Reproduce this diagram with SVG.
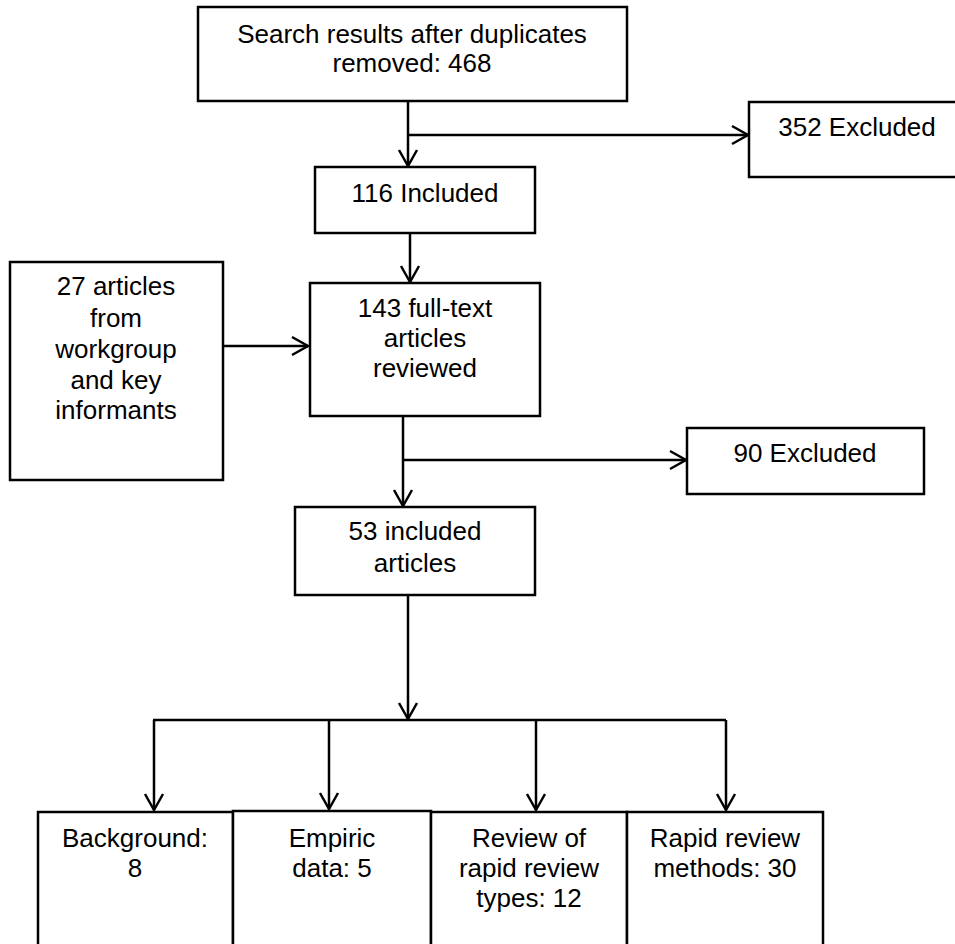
<svg xmlns="http://www.w3.org/2000/svg" width="955" height="944" viewBox="0 0 955 944">
<style>
.box{fill:#fff;stroke:#000;stroke-width:2.5}
.t{font-family:"Liberation Sans",Arial,sans-serif;font-size:26px;fill:#000;text-anchor:middle}
.c{fill:none;stroke:#000;stroke-width:2.5}
</style>
<defs>
<marker id="arr" markerUnits="userSpaceOnUse" markerWidth="24" markerHeight="24" viewBox="-20 -12 24 24" refX="0" refY="0" orient="auto">
<path d="M-16,-9 L0,0 L-16,9" fill="none" stroke="#000" stroke-width="2.5"/>
</marker>
</defs>
<rect width="955" height="944" fill="#fff"/>
<g id="connectors">
<path class="c" d="M408,101 V166" marker-end="url(#arr)"/>
<path class="c" d="M408,135 H748" marker-end="url(#arr)"/>
<path class="c" d="M410,233 V282" marker-end="url(#arr)"/>
<path class="c" d="M224,346 H308" marker-end="url(#arr)"/>
<path class="c" d="M403,416 V506" marker-end="url(#arr)"/>
<path class="c" d="M403,460 H686" marker-end="url(#arr)"/>
<path class="c" d="M408,595 V719" marker-end="url(#arr)"/>
<path class="c" d="M153,720 H726"/>
<path class="c" d="M154,720 V810" marker-end="url(#arr)"/>
<path class="c" d="M329,720 V809" marker-end="url(#arr)"/>
<path class="c" d="M536,720 V810" marker-end="url(#arr)"/>
<path class="c" d="M726,720 V810" marker-end="url(#arr)"/>
</g>
<g id="search">
<rect class="box" x="198" y="7" width="429" height="94"/>
<text class="t" x="412" y="43">Search results after duplicates</text>
<text class="t" x="412" y="72">removed: 468</text>
</g>
<g id="excluded352">
<rect class="box" x="749" y="102" width="220" height="75"/>
<text class="t" x="857" y="136">352 Excluded</text>
</g>
<g id="included116">
<rect class="box" x="315" y="167" width="220" height="66"/>
<text class="t" x="425" y="202">116 Included</text>
</g>
<g id="workgroup">
<rect class="box" x="10" y="262" width="213" height="218"/>
<text class="t" x="116" y="295">27 articles</text>
<text class="t" x="116" y="327">from</text>
<text class="t" x="116" y="358">workgroup</text>
<text class="t" x="116" y="389">and key</text>
<text class="t" x="116" y="419">informants</text>
</g>
<g id="fulltext143">
<rect class="box" x="310" y="283" width="230" height="133"/>
<text class="t" x="425" y="317">143 full-text</text>
<text class="t" x="425" y="347">articles</text>
<text class="t" x="425" y="377">reviewed</text>
</g>
<g id="excluded90">
<rect class="box" x="687" y="428" width="237" height="66"/>
<text class="t" x="805" y="462">90 Excluded</text>
</g>
<g id="included53">
<rect class="box" x="295" y="507" width="240" height="88"/>
<text class="t" x="415" y="540">53 included</text>
<text class="t" x="415" y="572">articles</text>
</g>
<g id="background">
<rect class="box" x="38" y="812" width="195" height="150"/>
<text class="t" x="135" y="847">Background:</text>
<text class="t" x="135" y="877">8</text>
</g>
<g id="empiric">
<rect class="box" x="233" y="811" width="198" height="150"/>
<text class="t" x="332" y="847">Empiric</text>
<text class="t" x="332" y="877">data: 5</text>
</g>
<g id="reviewtypes">
<rect class="box" x="431" y="812" width="196" height="150"/>
<text class="t" x="529" y="847">Review of</text>
<text class="t" x="529" y="877">rapid review</text>
<text class="t" x="529" y="907">types: 12</text>
</g>
<g id="methods">
<rect class="box" x="627" y="812" width="196" height="150"/>
<text class="t" x="725" y="847">Rapid review</text>
<text class="t" x="725" y="877">methods: 30</text>
</g>
</svg>
